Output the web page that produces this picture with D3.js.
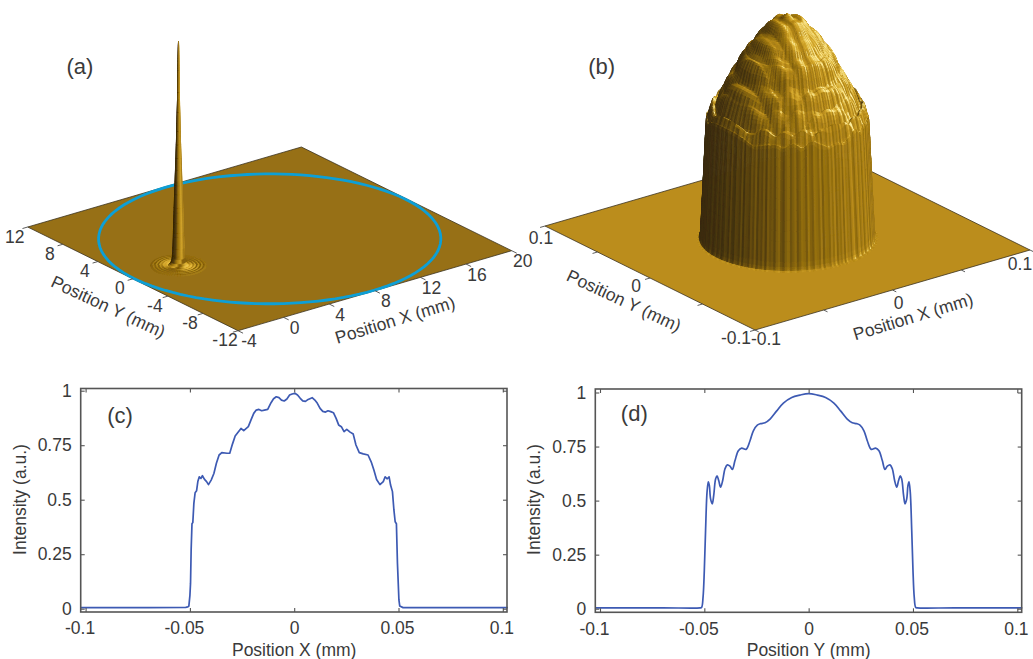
<!DOCTYPE html>
<html><head><meta charset="utf-8">
<script src="https://cdn.jsdelivr.net/npm/d3@7"></script>
<style>
html,body{margin:0;padding:0;background:#fff;overflow:hidden}
svg{display:block}
text{font-family:"Liberation Sans",Arial,sans-serif;fill:#3a3a3a}
</style></head><body>
<svg id="fig" width="1033" height="659"></svg>
<script>
// ---- panel (c): profile along X ----
const profileCx=[-0.1024,-0.07,-0.052,-0.051,-0.0505,-0.05,-0.0497,-0.0494,-0.049,-0.0486,-0.0481,-0.0475,-0.0468,-0.0462,-0.0455,-0.0447,-0.044,-0.043,-0.042,-0.0411,-0.0398,-0.0385,-0.0373,-0.036,-0.0347,-0.0322,-0.0309,-0.0296,-0.0283,-0.0271,-0.0255,-0.0242,-0.022,-0.0207,-0.0194,-0.0182,-0.0169,-0.0156,-0.0143,-0.0127,-0.0111,-0.0099,-0.0086,-0.0073,-0.0061,-0.0048,-0.0035,-0.0022,-0.001,0.0003,0.0016,0.0029,0.0041,0.0054,0.0067,0.0086,0.0099,0.0111,0.0124,0.0137,0.015,0.0162,0.0175,0.0188,0.0201,0.0213,0.0226,0.0239,0.0252,0.0268,0.0283,0.0296,0.0312,0.0331,0.0354,0.0369,0.0382,0.0395,0.0411,0.0427,0.0436,0.0446,0.0455,0.0462,0.0471,0.0478,0.0484,0.049,0.0495,0.0502,0.0506,0.0522,0.07,0.1024];
const profileCv=[0.005,0.005,0.006,0.008,0.012,0.06,0.116,0.27,0.39,0.395,0.483,0.532,0.541,0.583,0.605,0.598,0.61,0.593,0.583,0.569,0.59,0.62,0.667,0.705,0.716,0.713,0.713,0.755,0.792,0.807,0.827,0.817,0.835,0.866,0.896,0.911,0.914,0.908,0.911,0.914,0.945,0.963,0.972,0.968,0.957,0.953,0.962,0.98,0.985,0.988,0.98,0.965,0.953,0.951,0.96,0.968,0.957,0.942,0.919,0.905,0.902,0.908,0.904,0.899,0.873,0.843,0.835,0.812,0.823,0.81,0.801,0.751,0.716,0.71,0.705,0.674,0.636,0.593,0.569,0.583,0.605,0.596,0.605,0.567,0.537,0.453,0.399,0.39,0.208,0.04,0.012,0.005,0.005,0.005];
// ---- panel (d): profile along Y ----
const profileDx=[-0.1024,-0.07,-0.052,-0.0513,-0.0506,-0.05,-0.0494,-0.0487,-0.0481,-0.0476,-0.047,-0.0462,-0.0455,-0.0446,-0.0439,-0.0431,-0.0422,-0.0412,-0.0401,-0.039,-0.0377,-0.0366,-0.0353,-0.0337,-0.0321,-0.03,-0.0281,-0.0265,-0.0246,-0.023,-0.0209,-0.0185,-0.0153,-0.0121,-0.0081,-0.0042,0,0.0042,0.0081,0.0121,0.0153,0.0185,0.0209,0.023,0.0246,0.0265,0.0281,0.03,0.0321,0.0337,0.0353,0.0366,0.0377,0.039,0.0401,0.0412,0.0422,0.0431,0.0439,0.0446,0.0455,0.0462,0.047,0.0476,0.0481,0.0487,0.0494,0.05,0.0506,0.0513,0.052,0.07,0.1024];
const profileDv=[0.004,0.004,0.004,0.006,0.055,0.178,0.363,0.539,0.587,0.57,0.508,0.485,0.524,0.6,0.614,0.593,0.562,0.593,0.647,0.665,0.659,0.644,0.685,0.731,0.743,0.737,0.777,0.823,0.849,0.856,0.86,0.877,0.915,0.951,0.977,0.988,0.995,0.988,0.977,0.951,0.915,0.877,0.86,0.856,0.849,0.823,0.777,0.737,0.743,0.731,0.685,0.644,0.659,0.665,0.647,0.593,0.562,0.593,0.614,0.6,0.524,0.485,0.508,0.57,0.587,0.539,0.363,0.178,0.055,0.006,0.004,0.004,0.004];
const ticks2Dx=[-0.1,-0.05,0,0.05,0.1];
const ticks2Dy=[0,0.25,0.5,0.75,1];
// ---- panel (a) ----
const ticksAx=[-4,0,4,8,12,16,20];
const ticksAy=[12,8,4,0,-4,-8,-12];
const spikeR=[0,0.03,0.07,0.12,0.18,0.25,0.31,0.35,0.39,0.43,0.5,0.6,0.72,0.85,0.97,1.09,1.21,1.33,1.45,1.57,1.69,1.81,1.93];
const spikeZ=[1,0.87,0.74,0.6,0.48,0.36,0.24,0.15,0.08,0.035,0.016,0.007,0,0.0028,0,0.002,0,0.0013,0,0.0008,0,0.0004,0];
const apertureCentre=[8,0];
const apertureRadius=11.9;
// ---- panel (b) ----
const ticksBx=[-0.1,-0.05,0,0.05,0.1];
const ticksBy=[0.1,0.05,0,-0.05,-0.1];
const labelsB=[-0.1,0,0.1];
const edgeR=[0,0.0468,0.0503,0.051,0.06];
const edgeM=[1,1,0.04,0,0];
const wallStreaks=[0.2,-0.8,0.5,1,-0.4,-1,0.3,0.9,-0.6,0.1,0.7,-0.9,-0.2,0.8,0.4,-0.7,1,-0.3,-0.9,0.6,0.2,-0.5,0.9,-1,0.4,0.1,-0.6,0.7,-0.2,1,-0.8,0.3,-0.4,0.6,-1,0.8,0];

// ---- layout ----
const svg=d3.select("#fig");
const defs=svg.append("defs");
defs.append("filter").attr("id","soft").attr("x","-5%").attr("y","-5%").attr("width","110%").attr("height","110%")
  .append("feGaussianBlur").attr("stdDeviation",0.5);
const FS=17.5, INK="#3a3a3a", EDGE="#4a4a4a";

function makeProj(dx,dy,origin,vx,vy,zpx){
  const u=d3.scaleLinear().domain(dx).range([0,1]);
  const w=d3.scaleLinear().domain(dy).range([0,1]);
  const z=d3.scaleLinear().domain([0,1]).range([0,zpx]);
  return (X,Y,Z=0)=>[origin[0]+u(X)*vx[0]+w(Y)*vy[0], origin[1]+u(X)*vx[1]+w(Y)*vy[1]-z(Z)];
}
const S_R=[0.795,-0.607], S_V=[-0.607,-0.795];
const light=[0.55*S_R[0]+0.25*S_V[0],0.55*S_R[1]+0.25*S_V[1],0.8];
const view=[S_V[0]*0.927,S_V[1]*0.927,0.38];

function surface(g,proj,cx,cy,radii,nAng,zFn,kxy,kz,ramp,streak,seam){
  const angs=d3.range(nAng).map(i=>i/nAng*2*Math.PI);
  const grid=radii.map(r=>angs.map(a=>{const X=cx+r*Math.cos(a),Y=cy+r*Math.sin(a);return {X,Y,Z:zFn(X,Y,r)};}));
  const quads=[];
  for(let i=0;i<radii.length-1;i++)for(let j=0;j<nAng;j++){
    const k=(j+1)%nAng,a=grid[i][j],b=grid[i+1][j],c=grid[i+1][k],d=grid[i][k];
    const d1=[(c.X-a.X)*kxy,(c.Y-a.Y)*kxy,(c.Z-a.Z)*kz],d2=[(d.X-b.X)*kxy,(d.Y-b.Y)*kxy,(d.Z-b.Z)*kz];
    let n=[d1[1]*d2[2]-d1[2]*d2[1],d1[2]*d2[0]-d1[0]*d2[2],d1[0]*d2[1]-d1[1]*d2[0]];
    const len=Math.hypot(...n)||1; n=n.map(v=>v/len); if(n[2]<0)n=n.map(v=>-v);
    if(n[0]*view[0]+n[1]*view[1]+n[2]*view[2]<-0.02)continue;
    let s=n[0]*light[0]+n[1]*light[1]+n[2]*light[2];
    if(streak) s+=streak(j,i,n[2]);
    const mx=(a.X+b.X+c.X+d.X)/4,my=(a.Y+b.Y+c.Y+d.Y)/4;
    quads.push({pts:[a,b,c,d].map(p=>proj(p.X,p.Y,p.Z)),s,key:S_V[0]*mx+S_V[1]*my});
  }
  quads.sort((p,q)=>p.key-q.key);
  g.selectAll("path").data(quads).join("path")
    .attr("d",q=>"M"+q.pts.map(p=>p[0].toFixed(1)+","+p[1].toFixed(1)).join("L")+"Z")
    .attr("fill",q=>ramp(q.s)).attr("stroke",q=>ramp(q.s)).attr("stroke-width",seam);
}
function floor3D(g,proj,dx,dy,fill){
  const c=[proj(dx[0],dy[0]),proj(dx[1],dy[0]),proj(dx[1],dy[1]),proj(dx[0],dy[1])];
  g.append("polygon").attr("points",c.map(p=>p.join(",")).join(" ")).attr("fill",fill)
    .attr("stroke","#3b3220").attr("stroke-width",0.8).attr("stroke-linejoin","round");
}
function txt(x,y,s,opts={}){
  const t=svg.append("text").attr("x",x).attr("y",y).text(s).attr("font-size",opts.size||FS)
    .attr("text-anchor",opts.anchor||"middle").attr("dominant-baseline","central");
  if(opts.rot!==undefined)t.attr("transform",`rotate(${opts.rot},${x},${y})`);
  return t;
}
function ticks3D(proj,vals,other,isX,frac,span,off,labels,nudge){
  vals.forEach(v=>{
    const a=isX?proj(v,other):proj(other,v);
    const b=isX?proj(v,other-span*frac):proj(other-span*frac,v);
    svg.append("line").attr("x1",a[0]).attr("y1",a[1]).attr("x2",b[0]).attr("y2",b[1]).attr("stroke",EDGE).attr("stroke-width",0.9);
  });
  labels.forEach((v,i)=>{
    const a=isX?proj(v,other):proj(other,v);
    const n=nudge?nudge[i]:off;
    txt(a[0]+n[0],a[1]+n[1],String(v));
  });
}

// ---- panel (a) ----
const domAx=[-4,20], domAy=[-12,12];
const prA=makeProj(domAx,domAy,[238,330.7],[273.7,-80],[-210.3,-103.7],224);
const gA=svg.append("g").attr("filter","url(#soft)");
floor3D(gA,prA,domAx,domAy,"#977014");
const circlePts=d3.range(0,361,3).map(t=>prA(apertureCentre[0]+apertureRadius*Math.cos(t*Math.PI/180),apertureCentre[1]+apertureRadius*Math.sin(t*Math.PI/180)));
gA.append("path").attr("d",d3.line()(circlePts)).attr("fill","none").attr("stroke","#0c9fd6").attr("stroke-width",2.8);
const rampA=d3.scaleLinear().domain([-0.6,0,0.25,0.55,0.68,0.76,0.8,0.86,0.95,1])
  .range(["#2a1d06","#4f3a0c","#9a7312","#d8aa30","#86620f","#86620f","#977014","#b58e22","#e6bb40","#f3cd58"]).clamp(true);
const spikeZFn=d3.scaleLinear().domain(spikeR).range(spikeZ).clamp(true);
const spikeRadii=Array.from(new Set(spikeR.concat(d3.range(0,1.95,0.03)))).sort(d3.ascending);
surface(gA.append("g"),prA,0,0,spikeRadii,64,(X,Y,r)=>spikeZFn(r),14.4,241,rampA,null,0.35);
ticks3D(prA,ticksAx,domAy[0],true,0.024,24,[11,10.5],ticksAx);
ticks3D(prA,ticksAy,domAx[0],false,0.019,24,[-13,9.5],ticksAy);
txt(108.3,306.7,"Position Y (mm)",{rot:25});
txt(395,320,"Position X (mm)",{rot:-17});
txt(80,66,"(a)",{size:22});

// ---- panel (b) ----
const domBx=[-0.1,0.1], domBy=[-0.1,0.1];
const prB=makeProj(domBx,domBy,[755,330],[275,-80],[-210,-104],225);
const gB=svg.append("g").attr("filter","url(#soft)");
floor3D(gB,prB,domBx,domBy,"#bb8d1c");
const rampB=d3.scaleLinear().domain([-0.7,-0.2,0.1,0.35,0.6,0.8,0.92,1.02])
  .range(["#33250a","#42310b","#5f4710","#7f5f10","#9c7612","#bb8d1c","#d9ae30","#fff0a0"]).clamp(true);
const scC=d3.scaleLinear().domain(profileCx).range(profileCv);
const scD=d3.scaleLinear().domain(profileDx).range(profileDv);
const holdC=x=>scC(Math.max(-0.0452,Math.min(0.0452,x)));
const holdD=x=>scD(Math.max(-0.0476,Math.min(0.0476,x)));
const edge=d3.scaleLinear().domain(edgeR).range(edgeM).clamp(true);
const radiiB=d3.range(0,0.046,0.00075).concat(d3.range(0.046,0.0525,0.0003));
const domeB=(X,Y,r)=>edge(r)*(0.6*(holdC(r)+holdD(r))/2+0.4*holdC(X)*holdD(Y)/0.985);
surface(gB.append("g"),prB,0,0,radiiB,240,domeB,1730,243,rampB,
  (j,i,nz)=>wallStreaks[j%wallStreaks.length]*0.17*(nz<0.55?1:0.25),0.9);
ticks3D(prB,ticksBx,domBy[0],true,0.018,0.2,null,labelsB,[[11,9],[6,12.7],[-10,14]]);
ticks3D(prB,ticksBy,domBx[0],false,0.018,0.2,null,labelsB.slice().reverse(),[[-4,12],[-14,8],[-19,8]]);
txt(624,300.7,"Position Y (mm)",{rot:25});
txt(913,316.7,"Position X (mm)",{rot:-17});
txt(601.7,66,"(b)",{size:22});

// ---- panels (c) and (d) ----
function panel2D(box,rx,ry,xs,vs,curve,xTitle,tag,tagPos,yTitleX){
  const x=d3.scaleLinear().domain([-0.1,0.1]).range(rx);
  const y=d3.scaleLinear().domain([0,1]).range(ry);
  const g=svg.append("g");
  g.append("path").datum(d3.zip(xs,vs)).attr("fill","none").attr("stroke","#3d5ab3").attr("stroke-width",1.7)
    .attr("stroke-linejoin","round")
    .attr("d",d3.line().x(d=>x(d[0])).y(d=>y(d[1])).curve(curve));
  const style=a=>{a.select(".domain").remove();a.selectAll("line").attr("stroke","#555").attr("stroke-width",1.1);
    a.selectAll("text").attr("font-size",FS).attr("fill",INK);};
  g.append("g").attr("transform",`translate(0,${box.b})`).call(d3.axisBottom(x).tickValues(ticks2Dx).tickSize(-4).tickPadding(10).tickFormat(String)).call(style)
    .selectAll("text").attr("dx",d=>d<0?-6:d>0?-1.5:0).attr("font-family","Liberation Sans");
  g.append("g").attr("transform",`translate(0,${box.t})`).call(d3.axisTop(x).tickValues(ticks2Dx).tickSize(-4).tickFormat("")).call(style);
  g.append("g").attr("transform",`translate(${box.l},0)`).call(d3.axisLeft(y).tickValues(ticks2Dy).tickSize(-4).tickPadding(9).tickFormat(String)).call(style)
    .selectAll("text").attr("font-family","Liberation Sans");
  g.append("g").attr("transform",`translate(${box.r},0)`).call(d3.axisRight(y).tickValues(ticks2Dy).tickSize(-4).tickFormat("")).call(style);
  g.append("rect").attr("x",box.l).attr("y",box.t).attr("width",box.r-box.l).attr("height",box.b-box.t)
    .attr("fill","none").attr("stroke","#555").attr("stroke-width",1.6);
  txt((rx[0]+rx[1])/2,650,xTitle);
  txt(yTitleX,499.5,"Intensity (a.u.)",{rot:-90});
  txt(tagPos[0],tagPos[1],tag,{size:22});
}
panel2D({l:80.7,r:507,t:388.5,b:612},[85.6,502.8],[608.7,390.7],profileCx,profileCv,d3.curveLinear,"Position X (mm)","(c)",[120,415],20);
panel2D({l:595.3,r:1021.7,t:389,b:612.3},[600,1017.3],[608.7,392.5],profileDx,profileDv,d3.curveCatmullRom,"Position Y (mm)","(d)",[634.3,413.5],534);
</script>
</body></html>
